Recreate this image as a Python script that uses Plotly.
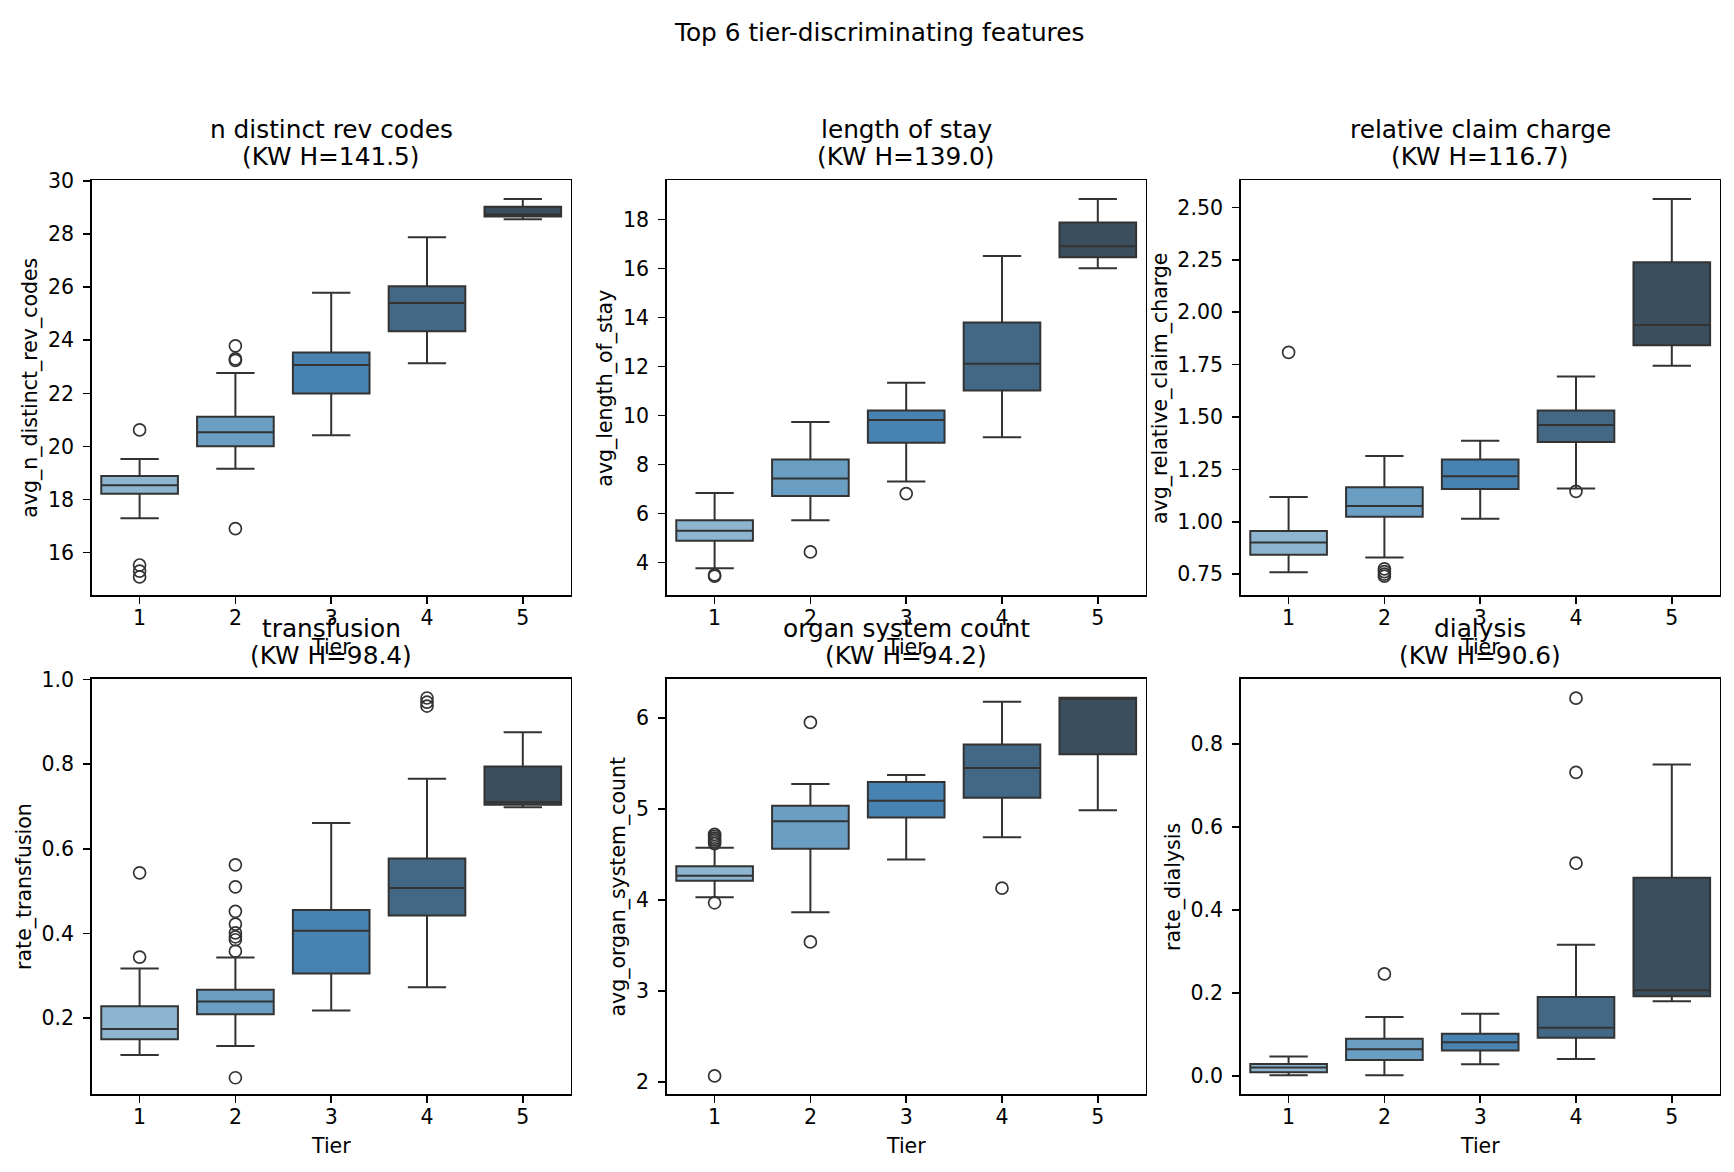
import plotly.graph_objects as go

# ---------------- data ----------------
tiers = [1, 2, 3, 4, 5]
tier_colors = ["#8db5d0", "#6a9ec3", "#4882b0", "#426885", "#3b4e5e"]

rev_q1 = [18.22, 20.01, 21.99, 24.34, 28.66]
rev_median = [18.54, 20.53, 23.07, 25.40, 28.74]
rev_q3 = [18.88, 21.12, 23.54, 26.04, 29.03]
rev_lower = [17.29, 19.16, 20.42, 23.13, 28.56]
rev_upper = [19.53, 22.77, 25.79, 27.88, 29.32]
rev_out_tier = [1, 1, 1, 1, 2, 2, 2, 2]
rev_out_val = [20.62, 15.53, 15.30, 15.08, 23.79, 23.30, 23.24, 16.90]

los_q1 = [4.90, 6.72, 8.90, 11.03, 16.47]
los_median = [5.30, 7.44, 9.82, 12.12, 16.92]
los_q3 = [5.73, 8.21, 10.21, 13.80, 17.89]
los_lower = [3.77, 5.73, 7.31, 9.12, 16.02]
los_upper = [6.84, 9.74, 11.34, 16.52, 18.85]
los_out_tier = [1, 1, 2, 3]
los_out_val = [3.50, 3.45, 4.44, 6.82]

charge_q1 = [0.843, 1.024, 1.156, 1.381, 1.843]
charge_median = [0.901, 1.075, 1.217, 1.462, 1.939]
charge_q3 = [0.956, 1.165, 1.297, 1.531, 2.239]
charge_lower = [0.759, 0.829, 1.014, 1.159, 1.745]
charge_upper = [1.118, 1.314, 1.387, 1.693, 2.541]
charge_out_tier = [1, 2, 2, 2, 2, 4]
charge_out_val = [1.808, 0.775, 0.762, 0.750, 0.740, 1.145]

trans_q1 = [0.150, 0.209, 0.305, 0.442, 0.704]
trans_median = [0.174, 0.239, 0.406, 0.507, 0.710]
trans_q3 = [0.228, 0.267, 0.455, 0.577, 0.794]
trans_lower = [0.113, 0.134, 0.218, 0.273, 0.698]
trans_upper = [0.317, 0.343, 0.661, 0.765, 0.875]
trans_out_tier = [1, 1, 2, 2, 2, 2, 2, 2, 2, 2, 2, 4, 4, 4]
trans_out_val = [0.543, 0.344, 0.562, 0.510, 0.452, 0.422, 0.401, 0.392,
                 0.385, 0.358, 0.059, 0.956, 0.946, 0.937]

organ_q1 = [4.213, 4.563, 4.906, 5.123, 5.600]
organ_median = [4.267, 4.866, 5.090, 5.448, 6.215]
organ_q3 = [4.372, 5.036, 5.296, 5.708, 6.220]
organ_lower = [4.032, 3.866, 4.444, 4.690, 4.986]
organ_upper = [4.574, 5.274, 5.372, 6.177, 6.220]
organ_out_tier = [1, 1, 1, 1, 1, 1, 1, 1, 2, 2, 4]
organ_out_val = [4.72, 4.70, 4.68, 4.66, 4.64, 4.62, 3.97, 2.07, 5.95, 3.54, 4.13]

dial_q1 = [0.0087, 0.0381, 0.061, 0.092, 0.192]
dial_median = [0.020, 0.064, 0.081, 0.116, 0.2066]
dial_q3 = [0.0286, 0.0898, 0.1017, 0.190, 0.478]
dial_lower = [0.0016, 0.0016, 0.0278, 0.0405, 0.180]
dial_upper = [0.047, 0.142, 0.150, 0.316, 0.751]
dial_out_tier = [2, 4, 4, 4]
dial_out_val = [0.246, 0.911, 0.732, 0.513]

panel_titles = ["n distinct rev codes", "length of stay", "relative claim charge",
                "transfusion", "organ system count", "dialysis"]
panel_kw = ["141.5", "139.0", "116.7", "98.4", "94.2", "90.6"]
panel_ylabels = ["avg_n_distinct_rev_codes", "avg_length_of_stay",
                 "avg_relative_claim_charge", "rate_transfusion",
                 "avg_organ_system_count", "rate_dialysis"]
suptitle = "Top 6 tier-discriminating features"
xlabel = "Tier"

panel_stats = [
    (rev_q1, rev_median, rev_q3, rev_lower, rev_upper, rev_out_tier, rev_out_val),
    (los_q1, los_median, los_q3, los_lower, los_upper, los_out_tier, los_out_val),
    (charge_q1, charge_median, charge_q3, charge_lower, charge_upper, charge_out_tier, charge_out_val),
    (trans_q1, trans_median, trans_q3, trans_lower, trans_upper, trans_out_tier, trans_out_val),
    (organ_q1, organ_median, organ_q3, organ_lower, organ_upper, organ_out_tier, organ_out_val),
    (dial_q1, dial_median, dial_q3, dial_lower, dial_upper, dial_out_tier, dial_out_val),
]

y_ranges = [[14.39, 30.03], [2.67, 19.61], [0.649, 2.63],
            [0.0204, 1.0006], [1.87, 6.425], [-0.044, 0.957]]
y_ticks = [[16, 18, 20, 22, 24, 26, 28, 30],
           [4, 6, 8, 10, 12, 14, 16, 18],
           [0.75, 1.00, 1.25, 1.50, 1.75, 2.00, 2.25, 2.50],
           [0.2, 0.4, 0.6, 0.8, 1.0],
           [2, 3, 4, 5, 6],
           [0.0, 0.2, 0.4, 0.6, 0.8]]
y_formats = ["d", "d", ".2f", ".1f", "d", ".1f"]

# ---------------- layout geometry (pixels) ----------------
W, H = 1734, 1172
col_left = [91.7, 666.7, 1240.7]
ax_w = 479.0
row_top = [170.0, 674.0]
ax_h = 419.3
ylabel_x = [30.9, 605.9, 1160.3, 24.3, 618.9, 1173.3]

FONT = "DejaVu Sans"
LINE = "#333333"


def px_x(p):
    return p / W


def px_y(p):
    return 1 - p / H


fig = go.Figure()
annotations = []
layout_axes = {}

for i in range(6):
    r, c = divmod(i, 3)
    n = i + 1
    xa = "x" if n == 1 else f"x{n}"
    ya = "y" if n == 1 else f"y{n}"
    q1, med, q3, lo, hi, ot, ov = panel_stats[i]
    for t in range(5):
        fig.add_trace(go.Box(
            x=[tiers[t]], q1=[q1[t]], median=[med[t]], q3=[q3[t]],
            lowerfence=[lo[t]], upperfence=[hi[t]],
            width=0.8, whiskerwidth=0.5, boxpoints=False,
            fillcolor=tier_colors[t], line=dict(color=LINE, width=2),
            xaxis=xa, yaxis=ya, showlegend=False, hoverinfo="skip",
        ))
    fig.add_trace(go.Scatter(
        x=ot, y=ov, mode="markers", xaxis=xa, yaxis=ya, showlegend=False,
        marker=dict(symbol="circle", size=12, color="rgba(0,0,0,0)",
                    line=dict(color=LINE, width=1.7)),
        hoverinfo="skip",
    ))

    x0, x1 = col_left[c], col_left[c] + ax_w
    y0, y1 = row_top[r], row_top[r] + ax_h
    axis_common = dict(
        showline=True, mirror=True, linecolor="black", linewidth=1.6,
        ticks="outside", ticklen=7, tickwidth=1.6, tickcolor="black",
        showgrid=False, zeroline=False,
        tickfont=dict(family=FONT, size=20.5, color="black"),
        fixedrange=True,
    )
    layout_axes["xaxis" if n == 1 else f"xaxis{n}"] = dict(
        axis_common, domain=[px_x(x0), px_x(x1)], anchor=ya,
        range=[0.5, 5.5], tickmode="array", tickvals=tiers,
        ticktext=[str(t) for t in tiers], ticklabelstandoff=-3,
    )
    layout_axes["yaxis" if n == 1 else f"yaxis{n}"] = dict(
        axis_common, domain=[px_y(y1), px_y(y0)], anchor=xa,
        range=y_ranges[i], tickmode="array", tickvals=y_ticks[i],
        tickformat=y_formats[i], ticklabelstandoff=5,
    )

    cx = (x0 + x1) / 2
    # subplot title (two lines)
    annotations.append(dict(text=panel_titles[i], x=px_x(cx), y=px_y(y0 - 51),
                            xref="paper", yref="paper", showarrow=False,
                            xanchor="center", yanchor="middle",
                            font=dict(family=FONT, size=24.8, color="black")))
    annotations.append(dict(text=f"(KW H={panel_kw[i]})", x=px_x(cx), y=px_y(y0 - 24),
                            xref="paper", yref="paper", showarrow=False,
                            xanchor="center", yanchor="middle",
                            font=dict(family=FONT, size=24.8, color="black")))
    # x label
    annotations.append(dict(text=xlabel, x=px_x(cx), y=px_y(y1 + 52),
                            xref="paper", yref="paper", showarrow=False,
                            xanchor="center", yanchor="middle",
                            font=dict(family=FONT, size=20.5, color="black")))
    # y label
    annotations.append(dict(text=panel_ylabels[i], x=px_x(ylabel_x[i]),
                            y=px_y((y0 + y1) / 2), xref="paper", yref="paper",
                            showarrow=False, textangle=-90,
                            xanchor="center", yanchor="middle",
                            font=dict(family=FONT, size=20.5, color="black")))

annotations.append(dict(text=suptitle, x=px_x(879), y=px_y(21), xref="paper",
                        yref="paper", showarrow=False, xanchor="center",
                        yanchor="middle",
                        font=dict(family=FONT, size=24.8, color="black")))

fig.update_layout(
    width=W, height=H, margin=dict(l=0, r=0, t=0, b=0),
    paper_bgcolor="white", plot_bgcolor="white", boxmode="overlay",
    annotations=annotations, font=dict(family=FONT, color="black"),
    **layout_axes,
)

fig.write_html("out.html",
               config={"displayModeBar": False, "staticPlot": True},
               post_script="document.body.style.margin='0';"
                           "document.body.style.overflow='hidden';")
